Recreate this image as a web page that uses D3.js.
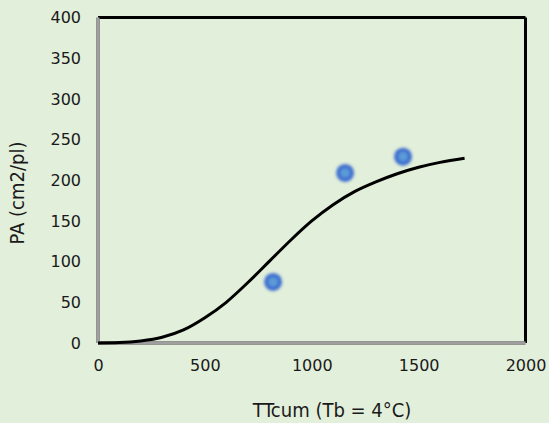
<!DOCTYPE html>
<html><head><meta charset="utf-8">
<script src="https://cdn.jsdelivr.net/npm/d3@7"></script>
<style>body{margin:0;background:#e2efda;}svg{display:block;}</style>
</head><body>
<script>
const curveX = [0,100,200,300,400,500,600,700,800,900,1000,1100,1200,1300,1400,1500,1600,1715];
const curveY = [0,0.5,2.5,7,16,31,50,74,100,126,150,170,186,198,208,216,222,227];
const obsX = [819,1156,1427];
const obsY = [75,209,229];
const xTicks = [0,500,1000,1500,2000];
const yTicks = [0,50,100,150,200,250,300,350,400];

const W=549,H=423;
const m={l:98,r:549-525.5,t:17.5,b:423-343};
const svg=d3.select("body").append("svg").attr("width",W).attr("height",H);
svg.append("rect").attr("width",W).attr("height",H).attr("fill","#e2efda");
const defs=svg.append("defs");
const f=defs.append("filter").attr("id","glow").attr("x","-50%").attr("y","-50%").attr("width","200%").attr("height","200%");
f.append("feGaussianBlur").attr("stdDeviation",1.6);

const x=d3.scaleLinear().domain([0,2000]).range([m.l,W-m.r]);
const y=d3.scaleLinear().domain([0,400]).range([H-m.b,m.t]);
const font="'DejaVu Sans Condensed','DejaVu Sans', Verdana, sans-serif";
const tickFont="'DejaVu Sans', Verdana, sans-serif";
const txt="#1a1a1a";

// frame
svg.append("line").attr("x1",x(0)).attr("x2",x(2000)).attr("y1",y(400)).attr("y2",y(400)).attr("stroke","#000").attr("stroke-width",3);
svg.append("line").attr("x1",x(2000)).attr("x2",x(2000)).attr("y1",y(400)).attr("y2",y(0)).attr("stroke","#000").attr("stroke-width",3);
[["#777",3.5],["#c8c8c8",1]].forEach(([c,w])=>{
  svg.append("line").attr("x1",x(0)).attr("x2",x(0)).attr("y1",y(400)).attr("y2",y(0)).attr("stroke",c).attr("stroke-width",w);
  svg.append("line").attr("x1",x(0)).attr("x2",x(2000)).attr("y1",y(0)).attr("y2",y(0)).attr("stroke",c).attr("stroke-width",w);
});

// axes labels via d3 axes
const ax=svg.append("g").attr("transform",`translate(0,${y(0)})`).call(d3.axisBottom(x).tickValues(xTicks).tickSize(0).tickPadding(17).tickFormat(d3.format("d")));
const ay=svg.append("g").attr("transform",`translate(${x(0)},0)`).call(d3.axisLeft(y).tickValues(yTicks).tickSize(0).tickPadding(17).tickFormat(d3.format("d")));
[ax,ay].forEach(g=>{g.select(".domain").remove();g.selectAll("text").attr("font-family",tickFont).attr("font-size",16).attr("fill",txt);});

// curve
svg.append("path").datum(curveX.map((d,i)=>[d,curveY[i]]))
  .attr("d",d3.line().x(d=>x(d[0])).y(d=>y(d[1])).curve(d3.curveMonotoneX))
  .attr("fill","none").attr("stroke","#000").attr("stroke-width",3);

// points
const pts=svg.append("g");
obsX.forEach((d,i)=>{
  pts.append("circle").attr("cx",x(d)).attr("cy",y(obsY[i])).attr("r",9).attr("fill","#3f6fd0").attr("filter","url(#glow)");
  pts.append("circle").attr("cx",x(d)).attr("cy",y(obsY[i])).attr("r",4.8).attr("fill","#5b9bd5").attr("filter","url(#glow)");
});

svg.append("text").attr("x",332).attr("y",417).attr("text-anchor","middle").attr("font-family",font).attr("font-stretch","condensed").attr("font-size",20).attr("fill",txt).text("TTcum (Tb = 4°C)");
svg.append("text").attr("transform",`translate(24,193) rotate(-90)`).attr("text-anchor","middle").attr("font-family",font).attr("font-stretch","condensed").attr("font-size",20).attr("fill",txt).text("PA (cm2/pl)");
</script>
</body></html>
